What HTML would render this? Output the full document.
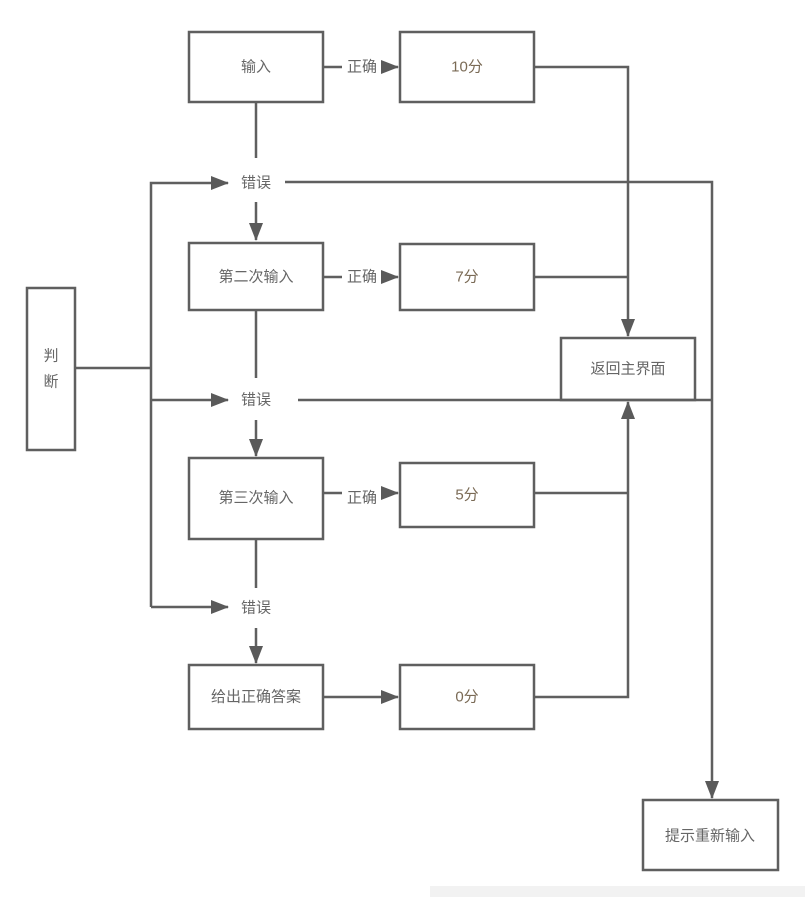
<!DOCTYPE html>
<html><head><meta charset="utf-8"><style>
html,body{margin:0;padding:0;background:#fff;}
svg{display:block;}
text{font-family:"Liberation Sans","Noto Sans CJK SC",sans-serif;font-size:15px;fill:#666;}
</style></head><body>
<svg width="805" height="897" viewBox="0 0 805 897" xmlns="http://www.w3.org/2000/svg">
<defs>
<marker id="b" markerWidth="18" markerHeight="14" refX="17" refY="7" orient="auto" markerUnits="userSpaceOnUse" viewBox="0 0 18 14">
<path d="M0,0 L18,7 L0,14 z" fill="#5a5a5a"/></marker>
</defs>
<rect x="430" y="886" width="375" height="11" fill="#f2f2f2"/>
<g fill="none" stroke="#5f5f5f" stroke-width="2.5">
<rect x="189" y="32" width="134" height="70"/>
<rect x="400" y="32" width="134" height="70"/>
<rect x="189" y="243" width="134" height="67"/>
<rect x="400" y="244" width="134" height="66"/>
<rect x="561" y="338" width="134" height="62"/>
<rect x="27" y="288" width="48" height="162"/>
<rect x="189" y="458" width="134" height="81"/>
<rect x="400" y="463" width="134" height="64"/>
<rect x="189" y="665" width="134" height="64"/>
<rect x="400" y="665" width="134" height="64"/>
<rect x="643" y="800" width="135" height="70"/>
</g>
<g fill="none" stroke="#5f5f5f" stroke-width="2.5">
<path d="M323 67H342"/><path d="M381 67H398" marker-end="url(#b)"/>
<path d="M323 277H342"/><path d="M381 277H398" marker-end="url(#b)"/>
<path d="M323 493H342"/><path d="M381 493H398" marker-end="url(#b)"/>
<path d="M323 697H398" marker-end="url(#b)"/>
<path d="M256 102V158"/><path d="M256 202V240" marker-end="url(#b)"/>
<path d="M256 310V378"/><path d="M256 420V456" marker-end="url(#b)"/>
<path d="M256 539V588"/><path d="M256 628V663" marker-end="url(#b)"/>
<path d="M534 67H628V336" marker-end="url(#b)"/>
<path d="M534 277H628"/>
<path d="M534 493H628"/>
<path d="M534 697H628V402" marker-end="url(#b)"/>
<path d="M75 368H151"/>
<path d="M151 607V183H228" marker-end="url(#b)"/>
<path d="M151 400H228" marker-end="url(#b)"/>
<path d="M151 607H228" marker-end="url(#b)"/>
<path d="M285 182H712V798" marker-end="url(#b)"/>
<path d="M298 400H712"/>
</g>
<g text-anchor="middle" dominant-baseline="central">
<text x="256" y="67">输入</text>
<text x="467" y="67" style="fill:#7a6a55">10分</text>
<text x="362" y="67">正确</text>
<text x="256" y="183">错误</text>
<text x="256" y="277">第二次输入</text>
<text x="467" y="277" style="fill:#7a6a55">7分</text>
<text x="362" y="277">正确</text>
<text x="628" y="369">返回主界面</text>
<text x="51" y="356">判</text>
<text x="51" y="382">断</text>
<text x="256" y="400">错误</text>
<text x="256" y="498">第三次输入</text>
<text x="467" y="495" style="fill:#7a6a55">5分</text>
<text x="362" y="498">正确</text>
<text x="256" y="608">错误</text>
<text x="256" y="697">给出正确答案</text>
<text x="467" y="697" style="fill:#7a6a55">0分</text>
<text x="710" y="836">提示重新输入</text>
</g>
</svg>
</body></html>
